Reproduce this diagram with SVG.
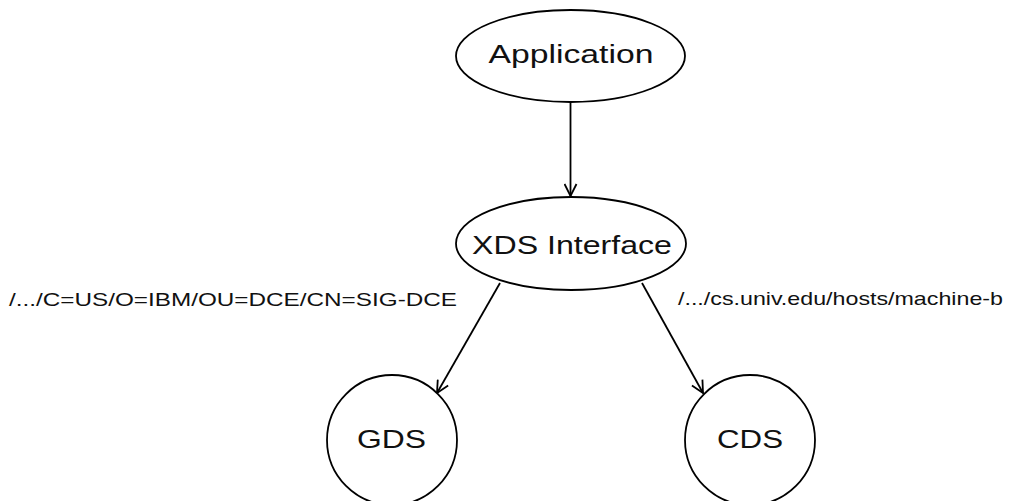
<svg xmlns="http://www.w3.org/2000/svg" width="1014" height="501" viewBox="0 0 1014 501">
<style>
.n{fill:#fff;stroke:#000;stroke-width:1.8}
.t{font-family:"Liberation Sans",Arial,sans-serif;fill:#111;text-anchor:middle}
.l{font-family:"Liberation Sans",Arial,sans-serif;fill:#111;font-size:19px}
.e{fill:none;stroke:#000;stroke-width:1.8}
</style>
<defs>
<marker id="a" viewBox="0 0 14 14" refX="13" refY="7" markerWidth="14" markerHeight="14" markerUnits="userSpaceOnUse" orient="auto">
<path d="M1,1 L13,7 L1,13" fill="none" stroke="#000" stroke-width="1.8"/>
</marker>
</defs>
<rect width="1014" height="501" fill="#fff"/>
<g id="edges">
<line class="e" x1="570.5" y1="102" x2="570.5" y2="196" marker-end="url(#a)"/>
<line class="e" x1="500" y1="283" x2="437" y2="393" marker-end="url(#a)"/>
<line class="e" x1="642" y1="283" x2="703" y2="393" marker-end="url(#a)"/>
</g>
<g id="application">
<ellipse class="n" cx="570.5" cy="56" rx="114.5" ry="46"/>
<text class="t" x="571" y="63" font-size="25" textLength="165" lengthAdjust="spacingAndGlyphs">Application</text>
</g>
<g id="xds">
<ellipse class="n" cx="571" cy="243.5" rx="115" ry="46.5"/>
<text class="t" x="572" y="254" font-size="26" textLength="200" lengthAdjust="spacingAndGlyphs">XDS Interface</text>
</g>
<g id="gds">
<circle class="n" cx="392" cy="440" r="65"/>
<text class="t" x="391.5" y="448" font-size="25" textLength="69" lengthAdjust="spacingAndGlyphs">GDS</text>
</g>
<g id="cds">
<circle class="n" cx="750" cy="440" r="65"/>
<text class="t" x="750" y="448" font-size="25" textLength="66" lengthAdjust="spacingAndGlyphs">CDS</text>
</g>
<g id="labels">
<text class="l" x="9" y="306" textLength="448" lengthAdjust="spacingAndGlyphs">/.../C=US/O=IBM/OU=DCE/CN=SIG-DCE</text>
<text class="l" x="678" y="305" textLength="325" lengthAdjust="spacingAndGlyphs">/.../cs.univ.edu/hosts/machine-b</text>
</g>
</svg>
